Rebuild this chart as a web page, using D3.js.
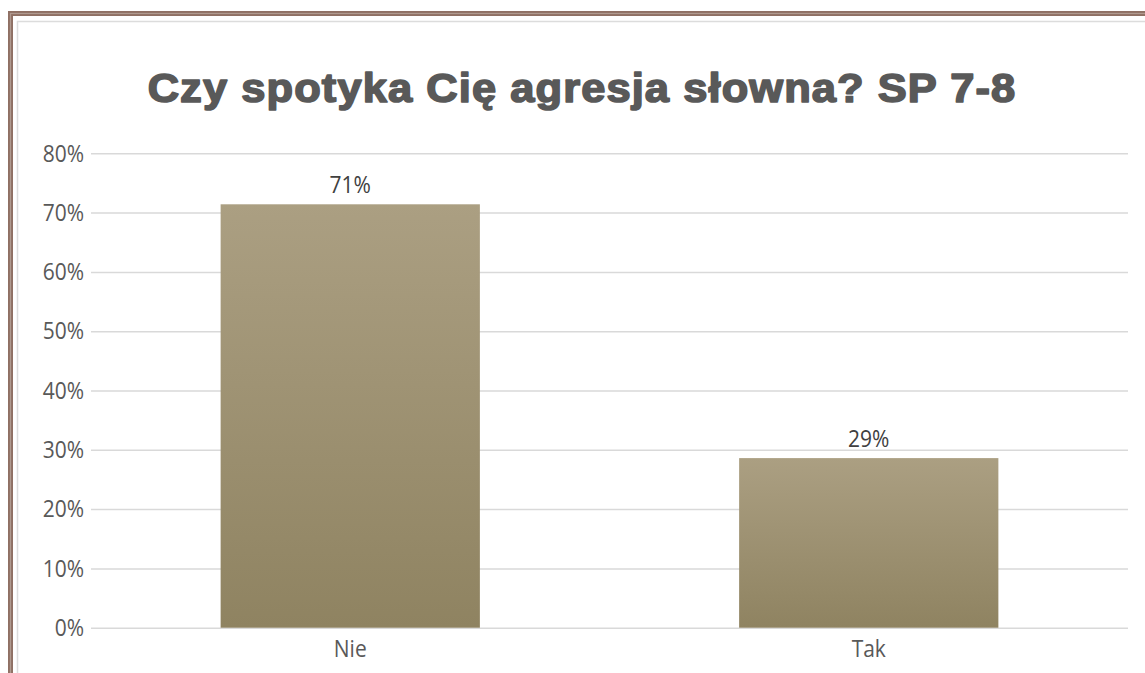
<!DOCTYPE html>
<html><head><meta charset="utf-8">
<script src="https://cdn.jsdelivr.net/npm/d3@7"></script>
<style>body{margin:0;background:#fff}svg{display:block}</style>
</head><body>
<svg id="c" width="1145" height="673"></svg>
<script>
const categories = ["Nie", "Tak"];
const values = [0.714, 0.286];
const labels = ["71%", "29%"];
const yTicks = [0, 0.1, 0.2, 0.3, 0.4, 0.5, 0.6, 0.7, 0.8];
const title = "Czy spotyka Cię agresja słowna? SP 7-8";

const svg = d3.select("#c");
const W = 1145, H = 673;
const FONT = "'Open Sans', 'Noto Sans', sans-serif";
const SY = 1.15;
const m = {left: 91, right: 17, top: 153.3, bottom: 45.3};
const x = d3.scaleBand().domain(categories).range([m.left, W - m.right]).paddingInner(0.5).paddingOuter(0.25);
const y = d3.scaleLinear().domain([0, 0.8]).range([H - m.bottom, m.top]);

const defs = svg.append("defs");
const g = defs.append("linearGradient").attr("id", "bg").attr("x1", 0).attr("y1", 0).attr("x2", 0).attr("y2", 1);
g.append("stop").attr("offset", 0).attr("stop-color", "#ab9f82");
g.append("stop").attr("offset", 1).attr("stop-color", "#8f8361");

// frame
svg.append("rect").attr("x", 10.5).attr("y", 13.5).attr("width", W + 20).attr("height", H + 20)
  .attr("fill", "none").attr("stroke", "#8f7064").attr("stroke-width", 5);
svg.append("rect").attr("x", 10.5).attr("y", 13.5).attr("width", W + 20).attr("height", H + 20)
  .attr("fill", "none").attr("stroke", "#b09a90").attr("stroke-width", 1.2);
svg.append("rect").attr("x", 17.5).attr("y", 21.5).attr("width", W + 20).attr("height", H + 20)
  .attr("fill", "none").attr("stroke", "#dcdcdc").attr("stroke-width", 1.5);

// grid
const axis = d3.axisLeft(y).tickValues(yTicks).tickFormat(d3.format(".0%")).tickSize(-(W - m.right - m.left)).tickPadding(7);
const ga = svg.append("g").attr("transform", `translate(${m.left},0)`).call(axis);
ga.select(".domain").remove();
ga.selectAll(".tick line").attr("stroke", "#d9d9d9").attr("stroke-width", 1.5);
ga.selectAll(".tick text").attr("fill", "#595959").style("font-family", FONT).style("font-size", "21px")
  .attr("transform", `scale(1,${SY})`);

// bars
svg.selectAll(".bar").data(categories).enter().append("rect")
  .attr("x", d => x(d)).attr("width", x.bandwidth())
  .attr("y", (d, i) => y(values[i])).attr("height", (d, i) => y(0) - y(values[i]))
  .attr("fill", "url(#bg)");

// data labels
svg.selectAll(".lbl").data(categories).enter().append("text")
  .attr("transform", (d, i) => `translate(${x(d) + x.bandwidth() / 2},${y(values[i]) - 11}) scale(1,${SY})`)
  .attr("text-anchor", "middle").attr("fill", "#404040")
  .style("font-family", FONT).style("font-size", "21px")
  .text((d, i) => labels[i]);

// x axis labels
svg.selectAll(".cat").data(categories).enter().append("text")
  .attr("transform", d => `translate(${x(d) + x.bandwidth() / 2},${y(0) + 29}) scale(1,${SY})`)
  .attr("text-anchor", "middle").attr("fill", "#595959")
  .style("font-family", FONT).style("font-size", "21px")
  .text(d => d);

// title
const t = svg.append("text").attr("text-anchor", "middle")
  .attr("fill", "#595959").attr("stroke", "#595959").attr("stroke-width", 1.6).attr("stroke-linejoin", "round")
  .style("font-family", "'Liberation Sans', Arial, sans-serif")
  .style("font-weight", "bold").style("font-size", "40px").style("letter-spacing", "1px")
  .text(title);
const tw = t.node().getComputedTextLength();
t.attr("transform", `translate(582,102) scale(${869 / tw},1)`);
</script>
</body></html>
